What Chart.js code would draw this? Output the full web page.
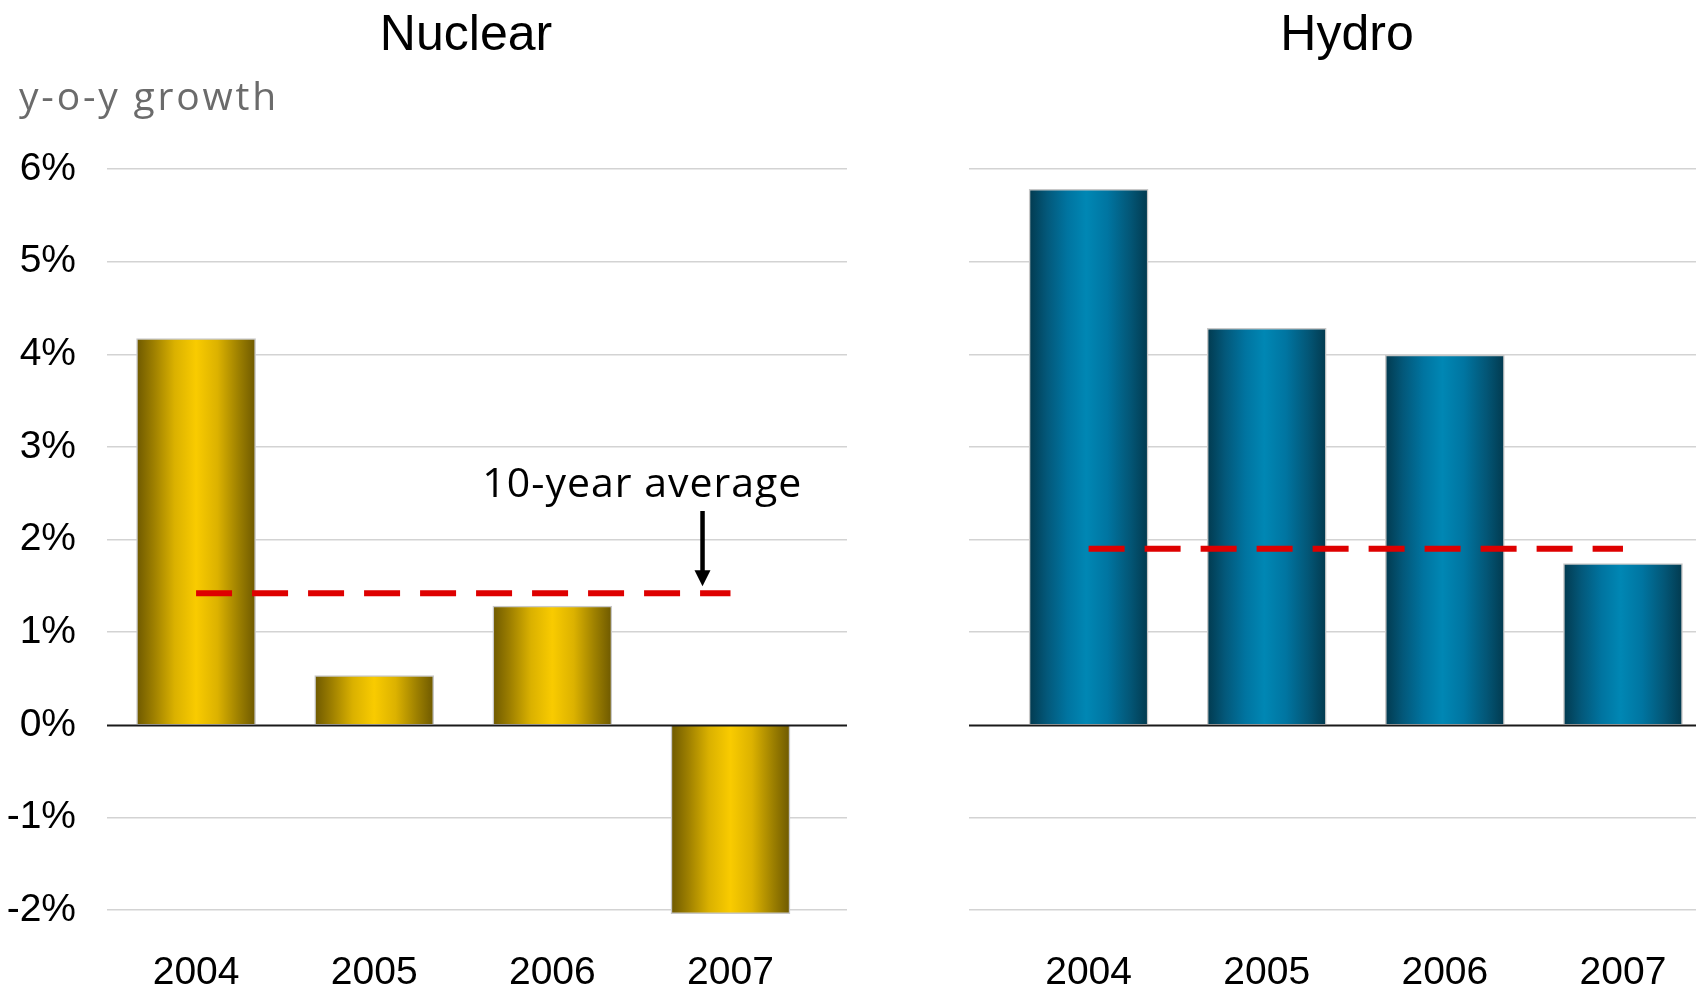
<!DOCTYPE html>
<html>
<head>
<meta charset="utf-8">
<script src="https://cdn.jsdelivr.net/npm/chart.js@4.4.1/dist/chart.umd.min.js"></script>
<style>
  html, body { margin: 0; padding: 0; background: #ffffff; width: 1696px; height: 985px; overflow: hidden; }
  canvas { position: absolute; top: 0; }
  #nuclear { left: 0; }
  #hydro { left: 860px; }
</style>
</head>
<body>
<canvas id="nuclear" width="860" height="985"></canvas>
<canvas id="hydro" width="836" height="985"></canvas>
<script>
// Year-on-year growth in generation, per source
const years = ['2004', '2005', '2006', '2007'];
const nuclearGrowth = [4.17, 0.53, 1.28, -2.04];
const hydroGrowth = [5.78, 4.28, 3.99, 1.74];
// 10-year average growth rates
const nuclearAvg10y = 1.42;
const hydroAvg10y = 1.90;
// y-axis tick values (%)
const yTicks = [-2, -1, 0, 1, 2, 3, 4, 5, 6];

const TICK_FONT = { family: '"Liberation Sans", Arial, sans-serif', size: 39 };
const BAR_PX = 119;

const goldStops = [[0, '#6e5900'], [0.14, '#9c7e00'], [0.32, '#dab100'], [0.5, '#f9cb00'], [0.68, '#dcb200'], [0.86, '#9c7f00'], [1, '#6e5900']];
const blueStops = [[0, '#023a4f'], [0.15, '#03587a'], [0.32, '#0074a0'], [0.48, '#0087b4'], [0.66, '#0075a1'], [0.85, '#035676'], [1, '#023a4f']];

function barGradient(stops) {
  return (c) => {
    const chart = c.chart;
    if (!chart.chartArea || c.type !== 'data') return stops[3][1];
    const x = chart.scales.x.getPixelForValue(c.dataIndex);
    const g = chart.ctx.createLinearGradient(x - BAR_PX / 2, 0, x + BAR_PX / 2, 0);
    stops.forEach(([o, col]) => g.addColorStop(o, col));
    return g;
  };
}

function toPoints(values) {
  return values.map((v, i) => ({ x: i, y: v }));
}

// Titles, zero line, axis caption and the average call-out
const decorations = {
  id: 'decorations',
  afterDatasetsDraw(chart) {
    const { ctx, chartArea, scales } = chart;
    const y0 = Math.round(scales.y.getPixelForValue(0)) + 0.5;
    ctx.save();
    ctx.strokeStyle = '#1a1a1a';
    ctx.lineWidth = 2;
    ctx.beginPath();
    ctx.moveTo(chartArea.left, y0);
    ctx.lineTo(chartArea.right, y0);
    ctx.stroke();
    ctx.restore();
  },
  afterDraw(chart, args, opts) {
    const { ctx, scales } = chart;
    ctx.save();
    ctx.fillStyle = '#000';
    ctx.textAlign = 'center';
    ctx.textBaseline = 'alphabetic';
    ctx.font = '50px "Liberation Sans", Arial, sans-serif';
    ctx.fillText(opts.title, opts.titleX, 50);

    if (opts.caption) {
      ctx.fillStyle = '#6b6b6b';
      ctx.textAlign = 'left';
      ctx.font = '39px "Open Sans", "DejaVu Sans", sans-serif';
      ctx.letterSpacing = '2.8px';
      ctx.fillText(opts.caption, 19, 110);
      ctx.letterSpacing = '0px';
    }

    if (opts.callout) {
      const c = opts.callout;
      const ax = scales.x.getPixelForValue(c.arrowAt);
      const tip = scales.y.getPixelForValue(c.value) - 7;
      ctx.fillStyle = '#000';
      ctx.textAlign = 'center';
      ctx.font = '41px "Open Sans", "DejaVu Sans", sans-serif';
      ctx.letterSpacing = '1px';
      ctx.fillText(c.text, scales.x.getPixelForValue(c.textAt), 497);
      ctx.letterSpacing = '0px';
      ctx.strokeStyle = '#000';
      ctx.lineWidth = 4.5;
      ctx.beginPath();
      ctx.moveTo(ax, 511);
      ctx.lineTo(ax, tip - 14);
      ctx.stroke();
      ctx.beginPath();
      ctx.moveTo(ax - 8, tip - 16);
      ctx.lineTo(ax + 8, tip - 16);
      ctx.lineTo(ax, tip);
      ctx.closePath();
      ctx.fill();
    }
    ctx.restore();
  }
};

function makeChart(id, values, avg, stops, cfg) {
  return new Chart(document.getElementById(id), {
    type: 'bar',
    data: {
      datasets: [
        {
          type: 'line',
          data: [{ x: 0, y: avg }, { x: 3, y: avg }],
          borderColor: '#de0000',
          borderWidth: 6,
          borderDash: [36, 20],
          borderCapStyle: 'butt',
          pointRadius: 0,
          fill: false,
          order: 0
        },
        {
          data: toPoints(values),
          backgroundColor: barGradient(stops),
          borderColor: '#c8c8c8',
          borderWidth: 1.5,
          barThickness: BAR_PX,
          clip: false,
          order: 1
        }
      ]
    },
    options: {
      responsive: false,
      animation: false,
      devicePixelRatio: 1,
      layout: { padding: { top: 169, left: cfg.padLeft, right: cfg.padRight, bottom: 0 } },
      plugins: {
        legend: { display: false },
        tooltip: { enabled: false },
        decorations: cfg.deco
      },
      scales: {
        x: {
          type: 'linear',
          offset: false,
          min: cfg.xMin,
          max: cfg.xMax,
          afterBuildTicks: (s) => { s.ticks = years.map((_, i) => ({ value: i })); },
          afterFit: (s) => { s.height = 75; s.paddingLeft = 0; s.paddingRight = 0; },
          border: { display: false },
          grid: { display: false, drawTicks: false },
          ticks: {
            padding: 40,
            color: '#000',
            font: TICK_FONT,
            maxRotation: 0,
            autoSkip: false,
            callback: (v) => years[v]
          }
        },
        y: {
          min: -2,
          max: 6,
          afterBuildTicks: (s) => { s.ticks = yTicks.map((v) => ({ value: v })); },
          afterFit: (s) => { s.width = cfg.yWidth; },
          border: { display: false },
          grid: {
            drawTicks: false,
            lineWidth: 1.5,
            color: (c) => (c.tick && c.tick.value === 0 ? 'rgba(0,0,0,0)' : '#d3d3d3')
          },
          ticks: {
            display: cfg.showY,
            padding: 31,
            color: '#000',
            font: TICK_FONT,
            callback: (v) => v + '%'
          }
        }
      }
    },
    plugins: [decorations]
  });
}

makeChart('nuclear', nuclearGrowth, nuclearAvg10y, goldStops, {
  padLeft: 0, padRight: 13, yWidth: 107, showY: true,
  xMin: -0.5, xMax: 3.654,
  deco: {
    title: 'Nuclear', titleX: 466, caption: 'y-o-y growth',
    callout: { text: '10-year average', value: nuclearAvg10y, arrowAt: 2.843, textAt: 2.505 }
  }
});

makeChart('hydro', hydroGrowth, hydroAvg10y, blueStops, {
  padLeft: 109, padRight: 0, yWidth: 0, showY: false,
  xMin: -0.6715, xMax: 3.41,
  deco: { title: 'Hydro', titleX: 487 }
});
</script>
</body>
</html>
